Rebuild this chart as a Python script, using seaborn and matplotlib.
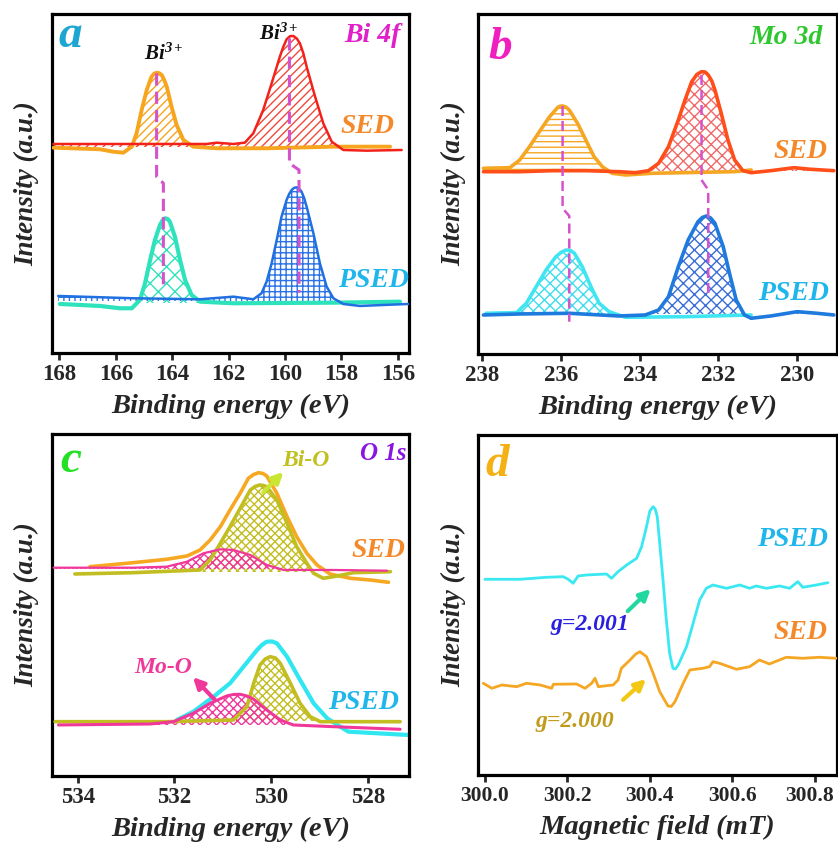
import numpy as np
import matplotlib
matplotlib.use("Agg")
import matplotlib.pyplot as plt
import matplotlib.transforms as mtransforms
import seaborn as sns

sns.set_style("white")
plt.rcParams['font.family'] = ['Liberation Serif', 'DejaVu Serif']
plt.rcParams['mathtext.fontset'] = 'custom'
plt.rcParams['mathtext.rm'] = 'Liberation Serif:italic:bold'
plt.rcParams['mathtext.it'] = 'Liberation Serif:italic:bold'
plt.rcParams['mathtext.bf'] = 'Liberation Serif:italic:bold'
plt.rcParams['hatch.linewidth'] = 1.0

# ---------------- Panel a : Bi 4f ----------------
a_ticks = [168, 166, 164, 162, 160, 158, 156]
a_sed_red_x = [168.21, 165.5, 162.78, 162.42, 161.83, 161.42, 161.12, 160.77, 160.47, 160.18, 160.06,
               159.94, 159.82, 159.70, 159.58, 159.47, 159.35, 159.23, 158.93, 158.64, 158.34, 157.93,
               157.10, 155.86]
a_sed_red_y = [209, 209, 209, 210.3, 209, 210.3, 219.7, 243, 269.7, 296.3, 306,
               313.7, 316.8, 317, 314.5, 309.7, 300, 286.3, 256.3, 229.7, 211.3, 203,
               202.3, 203]
a_sed_org_x = [168.21, 166.56, 166.09, 165.73, 165.43, 165.26, 165.08, 164.90, 164.80, 164.73, 164.64,
               164.55, 164.46, 164.37, 164.28, 164.19, 164.02, 163.84, 163.60, 163.25, 162.42, 160.65,
               158.28, 156.27]
a_sed_org_y = [205.3, 203.7, 201.3, 200.3, 206.3, 219.7, 243, 263, 271, 276.3, 279.3,
               280.3, 279.8, 278, 273, 266.3, 246.3, 228, 213, 206.3, 204.7, 204.7,
               206.3, 206.3]
a_psed_teal_x = [167.98, 166.56, 165.85, 165.43, 165.14, 164.96, 164.78, 164.61, 164.43, 164.34, 164.25,
                 164.16, 164.08, 163.90, 163.72, 163.54, 163.31, 163.01, 161.83, 158.28, 155.92]
a_psed_teal_y = [49, 47, 44.7, 44.7, 53, 69.7, 93, 113, 128, 132.5, 134.7,
                 134, 131.3, 116.3, 93, 73, 58, 51.3, 49.7, 50.3, 51.3]
a_psed_blue_x = [168.04, 165.38, 163.01, 161.83, 161.12, 160.83, 160.65, 160.47, 160.29, 160.12, 159.94,
                 159.85, 159.76, 159.67, 159.58, 159.50, 159.41, 159.32, 159.23, 158.99, 158.76, 158.52,
                 158.28, 157.93, 157.34, 156.51, 155.62]
a_psed_blue_y = [57, 54.7, 53.7, 56.3, 53.7, 59.7, 71.3, 89.7, 113, 136.3, 153,
                 159, 163, 165.2, 165.7, 164.5, 161.3, 155, 146.3, 119.7, 89.7, 66.3,
                 54.7, 49, 47, 48, 49]
a_dash1_x = [164.55, 164.55, 164.31, 164.31]
a_dash1_y = [279.7, 176.3, 169.7, 64.7]
a_dash2_x = [159.84, 159.84, 159.50, 159.50]
a_dash2_y = [314.7, 189.7, 183, 60.3]

# ---------------- Panel b : Mo 3d ----------------
b_ticks = [238, 236, 234, 232, 230]
b_sed_red_x = [237.97, 237.05, 236.21, 235.37, 234.53, 234.11, 233.78, 233.52, 233.27, 233.02, 232.85,
               232.68, 232.55, 232.43, 232.34, 232.26, 232.17, 232.09, 231.93, 231.76, 231.59, 231.38,
               231.17, 230.67, 230.08, 229.66, 229.07]
b_sed_red_y = [182.3, 182.3, 183.3, 183.3, 182.3, 181.3, 183.3, 190.7, 207.3, 234, 254,
               272.3, 279.5, 282.3, 282, 279, 273, 264, 240.7, 214, 194, 183.3,
               181.3, 183.3, 186.3, 184.7, 183.3]
b_sed_org_x = [237.97, 237.30, 237.05, 236.80, 236.55, 236.29, 236.08, 236.02, 235.96, 235.88, 235.79,
               235.58, 235.37, 235.16, 234.95, 234.70, 234.36, 233.69, 231.59, 231.17]
b_sed_org_y = [185.7, 186.3, 194, 207.3, 222.3, 237.3, 246.7, 247.8, 248, 247, 244,
               230.7, 214, 197.3, 187.3, 180.7, 179, 180.7, 182.3, 184]
b_psed_blue_x = [237.97, 237.05, 235.79, 234.53, 233.86, 233.52, 233.27, 233.02, 232.77, 232.52, 232.41,
                 232.31, 232.20, 232.09, 231.88, 231.72, 231.55, 231.34, 231.17, 230.67, 230.0, 229.50,
                 229.07]
b_psed_blue_y = [39, 40, 40.7, 38, 39, 44, 57.3, 87.3, 114, 132.3, 136.5,
                 138, 136, 130.7, 107.3, 80.7, 54, 39, 35.7, 38, 42.3, 40.7,
                 39]
b_psed_cyan_x = [237.9, 237.13, 236.88, 236.63, 236.38, 236.13, 236.0, 235.87, 235.76, 235.66, 235.46,
                 235.24, 235.03, 234.78, 234.36, 232.85, 231.17]
b_psed_cyan_y = [40.7, 41.3, 50.7, 67.3, 84, 97.3, 101.5, 104, 103.5, 100.7, 87.3,
                 67.3, 50.7, 42.3, 36.7, 37.3, 39]
b_dash1_x = [235.96, 235.96, 235.79, 235.79]
b_dash1_y = [248, 145.7, 138, 32.3]
b_dash2_x = [232.43, 232.43, 232.26, 232.26]
b_dash2_y = [279, 174, 164, 59]

# ---------------- Panel c : O 1s ----------------
c_ticks = [534, 532, 530, 528]
c_sed_org_x = [533.75, 532.85, 532.16, 531.74, 531.47, 531.26, 531.05, 530.85, 530.64, 530.47, 530.36,
               530.26, 530.17, 530.09, 529.88, 529.67, 529.47, 529.26, 529.05, 528.78, 528.36, 527.95,
               527.57]
c_sed_org_y = [209.3, 213.3, 216.7, 220, 226, 236, 249.3, 266, 282.7, 297.7, 301.5,
               303.3, 302.5, 300, 282.7, 259.3, 239.3, 222.7, 211, 202, 197.7, 196,
               193.7]
c_sed_olv_x = [534.06, 532.85, 531.47, 531.26, 531.05, 530.85, 530.64, 530.43, 530.33, 530.23, 530.16,
               530.09, 529.88, 529.67, 529.47, 529.26, 529.12, 528.92, 528.71, 528.29, 527.53]
c_sed_olv_y = [202, 203.3, 206, 216, 232.7, 249.3, 267.7, 286, 289.5, 291, 290.5,
               289.3, 276, 252.7, 229.3, 212.7, 202.7, 197.7, 199.3, 203.3, 204.3]
c_sed_pnk_x = [534.5, 532.85, 532.16, 531.74, 531.40, 531.05, 530.78, 530.43, 530.09, 529.74, 528.71,
               527.60]
c_sed_pnk_y = [208.3, 208.3, 209.3, 214.3, 222.7, 226.7, 226, 221, 211, 206, 206,
               205.3]
c_psed_cyan_x = [531.95, 531.61, 531.19, 530.85, 530.57, 530.29, 530.19, 530.09, 529.98, 529.88, 529.67,
                 529.40, 529.12, 528.84, 528.57, 528.40, 527.81, 527.16]
c_psed_cyan_y = [56, 64.3, 79.3, 92.7, 109.3, 126, 131, 134.3, 134.5, 132.7, 119.3,
                 96, 72.7, 57.7, 49.3, 44.3, 42.7, 41]
c_psed_olv_x = [534.47, 532.16, 530.78, 530.50, 530.36, 530.23, 530.12, 530.02, 529.91, 529.81, 529.60,
                529.40, 529.19, 528.98, 527.33]
c_psed_olv_y = [54.3, 54.3, 56, 69.3, 92.7, 111, 117, 119.3, 118, 112.7, 92.7,
                72.7, 59.3, 54.3, 54.3]
c_psed_pnk_x = [534.40, 532.5, 532.02, 531.61, 531.26, 530.92, 530.78, 530.64, 530.50, 530.36, 530.09,
                529.81, 529.54, 528.71, 527.33]
c_psed_pnk_y = [51, 52, 54.3, 62.7, 72.7, 80, 81.5, 81.7, 80, 76.7, 66,
                56, 51, 49.3, 46.7]

# ---------------- Panel d : EPR ----------------
d_ticks = [300.0, 300.2, 300.4, 300.6, 300.8]
d_psed_x = [300.0, 300.085, 300.15, 300.19, 300.202, 300.214, 300.226, 300.247, 300.295, 300.307, 300.323,
            300.344, 300.368, 300.380, 300.392, 300.400, 300.408, 300.413, 300.418, 300.424, 300.432,
            300.44, 300.448, 300.456, 300.462, 300.469, 300.489, 300.505, 300.521, 300.537, 300.553,
            300.586, 300.602, 300.618, 300.642, 300.658, 300.683, 300.715, 300.739, 300.759, 300.771,
            300.804, 300.832]
d_psed_y = [195.7, 195.7, 197.7, 198.3, 195.7, 191.7, 199, 200, 201, 196.7, 203.3,
            210, 216.7, 228.3, 248.3, 264, 268.3, 266, 258.3, 231.7, 195,
            155, 121.7, 106.7, 106, 110, 128.3, 151.7, 175, 186.7, 190,
            186.7, 188.3, 190, 186.7, 189, 186.7, 189, 186.7, 193.3, 187.7,
            190, 192.3]
d_sed_x = [299.996, 300.017, 300.041, 300.077, 300.101, 300.134, 300.162, 300.166, 300.222, 300.243, 300.259,
           300.267, 300.275, 300.311, 300.323, 300.331, 300.352, 300.366, 300.376, 300.392, 300.408,
           300.424, 300.444, 300.452, 300.461, 300.481, 300.497, 300.529, 300.545, 300.553, 300.569,
           300.61, 300.642, 300.666, 300.69, 300.731, 300.771, 300.811, 300.852]
d_sed_y = [91.7, 86.7, 90, 88.3, 91.7, 90, 86.7, 90.7, 91, 86.7, 91.7,
           96.7, 88.3, 90, 95, 106.7, 115, 121, 123.3, 118.3, 101.7,
           83.3, 69, 68.5, 73.3, 91.7, 105, 106.7, 108.3, 113.3, 111.7,
           105.7, 108.3, 115, 111, 117.7, 116.7, 117.7, 116.7]

# ---------------- colours ----------------
C_SED_TXT = '#F5892A'
C_PSED_TXT = '#1FB6EC'
C_DASH = '#D452CC'

fig = plt.figure(figsize=(8.38, 8.43), dpi=100)
axa = fig.add_axes([0.0617, 0.5813, 0.4267, 0.4021])
axb = fig.add_axes([0.5708, 0.5801, 0.4275, 0.4033])
axc = fig.add_axes([0.0617, 0.0795, 0.4267, 0.4057])
axd = fig.add_axes([0.5708, 0.0807, 0.4275, 0.4033])

lab_font = dict(family='Liberation Serif', weight='bold', style='italic')


def style_axes(ax, xlim, ylim, ticks, xlabel, fmt=None, tsize=16.5):
    ax.set_xlim(*xlim)
    ax.set_ylim(*ylim)
    ax.set_xticks(ticks)
    if fmt:
        ax.set_xticklabels([fmt % t for t in ticks])
    else:
        ax.set_xticklabels([str(t) for t in ticks])
    ax.set_yticks([])
    for s in ax.spines.values():
        s.set_linewidth(2.3)
        s.set_color('black')
    ax.tick_params(axis='x', direction='out', length=5, width=2, pad=3, bottom=True)
    for lbl in ax.get_xticklabels():
        lbl.set_fontfamily('Liberation Serif')
        lbl.set_fontweight('bold')
        lbl.set_fontsize(tsize)
    ax.set_xlabel(xlabel, fontsize=20.5, labelpad=6, **lab_font)
    ax.set_ylabel('Intensity (a.u.)', fontsize=19.5, labelpad=9, **lab_font)


def line(ax, x, y, color, lw, z=3):
    sns.lineplot(x=x, y=y, ax=ax, color=color, lw=lw, sort=False, estimator=None, zorder=z,
                 solid_joinstyle='round', solid_capstyle='round')


def hatch_fill(ax, x, y, base, color, hatch, z=2):
    x = np.asarray(x, float)
    y = np.asarray(y, float)
    ax.fill_between(x, y, base, where=y > base, interpolate=True, facecolor='none',
                    edgecolor=color, hatch=hatch, linewidth=0, zorder=z)


def txt(ax, fx, fy, s, color, size, ha='center'):
    ax.text(fx, fy, s, transform=ax.transAxes, color=color, fontsize=size, ha=ha, va='center', **lab_font)


def arrow(ax, p0, p1, color):
    ax.annotate('', xy=p1, xytext=p0, xycoords='axes fraction', textcoords='axes fraction',
                arrowprops=dict(arrowstyle='-|>', color=color, lw=3, mutation_scale=16,
                                shrinkA=0, shrinkB=0))


# ---- a ----
ax = axa
hatch_fill(ax, a_sed_org_x, a_sed_org_y, 206, '#F7A51E', '////')
hatch_fill(ax, a_sed_red_x, a_sed_red_y, 206, '#F04A3A', '////')
hatch_fill(ax, a_psed_teal_x, a_psed_teal_y, 50, '#2EE3BC', 'xx')
hatch_fill(ax, a_psed_blue_x, a_psed_blue_y, 52, '#2A72E6', '+++')
line(ax, a_sed_org_x, a_sed_org_y, '#F7A51E', 2.8)
line(ax, a_sed_red_x, a_sed_red_y, '#F2221A', 1.8)
line(ax, a_psed_teal_x, a_psed_teal_y, '#2EE3BC', 3.0)
line(ax, a_psed_blue_x, a_psed_blue_y, '#2070E0', 1.8)
ax.plot(a_dash1_x, a_dash1_y, color=C_DASH, lw=2.2, ls=(0, (4, 2)), zorder=4)
ax.plot(a_dash2_x, a_dash2_y, color=C_DASH, lw=2.2, ls=(0, (4, 2)), zorder=4)
style_axes(ax, (168.27, 155.59), (0, 339), a_ticks, 'Binding energy (eV)')
txt(ax, 0.051, 0.935, 'a', '#1EA6D2', 34)
txt(ax, 0.896, 0.938, 'Bi 4f', '#E020C8', 20)
txt(ax, 0.314, 0.880, r'Bi$^{3+}$', '#111111', 15)
txt(ax, 0.636, 0.940, r'Bi$^{3+}$', '#111111', 15)
txt(ax, 0.882, 0.667, 'SED', C_SED_TXT, 20)
txt(ax, 0.899, 0.215, 'PSED', C_PSED_TXT, 20)

# ---- b ----
ax = axb
hatch_fill(ax, b_sed_org_x, b_sed_org_y, 182, '#F5A623', '---')
hatch_fill(ax, b_sed_red_x, b_sed_red_y, 183, '#F06A6A', 'xxx')
hatch_fill(ax, b_psed_cyan_x, b_psed_cyan_y, 40, '#40DDEE', 'xxx')
hatch_fill(ax, b_psed_blue_x, b_psed_blue_y, 40, '#3A6ED8', 'xxx')
line(ax, b_sed_org_x, b_sed_org_y, '#F5A623', 2.6)
line(ax, b_sed_red_x, b_sed_red_y, '#FF4E1A', 2.6)
line(ax, b_psed_cyan_x, b_psed_cyan_y, '#3FE6F2', 2.6)
line(ax, b_psed_blue_x, b_psed_blue_y, '#1E7ADC', 2.6)
ax.plot(b_dash1_x, b_dash1_y, color=C_DASH, lw=1.8, ls=(0, (4, 2)), zorder=4)
ax.plot(b_dash2_x, b_dash2_y, color=C_DASH, lw=1.8, ls=(0, (4, 2)), zorder=4)
style_axes(ax, (238.1, 229.0), (0, 340), b_ticks, 'Binding energy (eV)')
txt(ax, 0.060, 0.900, 'b', '#F020C0', 34)
txt(ax, 0.860, 0.930, 'Mo 3d', '#2EC82E', 20)
txt(ax, 0.900, 0.597, 'SED', C_SED_TXT, 20)
txt(ax, 0.880, 0.179, 'PSED', C_PSED_TXT, 20)

# ---- c ----
ax = axc
hatch_fill(ax, c_sed_olv_x, c_sed_olv_y, 204, '#C2BE22', 'xxxx')
hatch_fill(ax, c_sed_pnk_x, c_sed_pnk_y, 207, '#F0389A', 'xxxx')
hatch_fill(ax, c_psed_olv_x, c_psed_olv_y, 55, '#C2BE22', 'xxxx')
hatch_fill(ax, c_psed_pnk_x, c_psed_pnk_y, 51, '#F0389A', 'xxxx')
line(ax, c_sed_org_x, c_sed_org_y, '#F7A823', 2.6)
line(ax, c_sed_olv_x, c_sed_olv_y, '#C2BE22', 2.6)
line(ax, c_sed_pnk_x, c_sed_pnk_y, '#F0389A', 1.6)
line(ax, c_psed_cyan_x, c_psed_cyan_y, '#30E6F0', 3.0, z=2.5)
line(ax, c_psed_olv_x, c_psed_olv_y, '#C2BE22', 2.6)
line(ax, c_psed_pnk_x, c_psed_pnk_y, '#F0389A', 2.2)
style_axes(ax, (534.54, 527.14), (0, 342), c_ticks, 'Binding energy (eV)')
txt(ax, 0.054, 0.921, 'c', '#22E022', 34)
txt(ax, 0.927, 0.942, 'O 1s', '#8A14E0', 18)
txt(ax, 0.711, 0.921, 'Bi-O', '#C0C020', 17)
arrow(ax, (0.592, 0.830), (0.648, 0.889), '#C8E632')
txt(ax, 0.915, 0.658, 'SED', C_SED_TXT, 20)
txt(ax, 0.873, 0.216, 'PSED', C_PSED_TXT, 20)
txt(ax, 0.311, 0.316, 'Mo-O', '#F0389A', 17)
arrow(ax, (0.457, 0.222), (0.395, 0.289), '#F0389A')

# ---- d ----
ax = axd
line(ax, d_psed_x, d_psed_y, '#3AE8F2', 2.0)
line(ax, d_sed_x, d_sed_y, '#F5A623', 2.0)
style_axes(ax, (299.984, 300.853), (0, 340), d_ticks, 'Magnetic field (mT)', fmt='%.1f', tsize=15.5)
last = ax.get_xticklabels()[-1]
last.set_transform(last.get_transform() + mtransforms.ScaledTranslation(-5 / 100, 0, fig.dpi_scale_trans))
txt(ax, 0.053, 0.912, 'd', '#F5B014', 34)
txt(ax, 0.877, 0.694, 'PSED', C_PSED_TXT, 20)
txt(ax, 0.900, 0.420, 'SED', C_SED_TXT, 20)
txt(ax, 0.311, 0.444, 'g=2.001', '#2A1EE0', 17)
txt(ax, 0.270, 0.156, 'g=2.000', '#C09A1A', 17)
arrow(ax, (0.417, 0.482), (0.481, 0.547), '#22D8A0')
arrow(ax, (0.404, 0.221), (0.468, 0.282), '#F2C814')

fig.savefig('out.png', dpi=100)
